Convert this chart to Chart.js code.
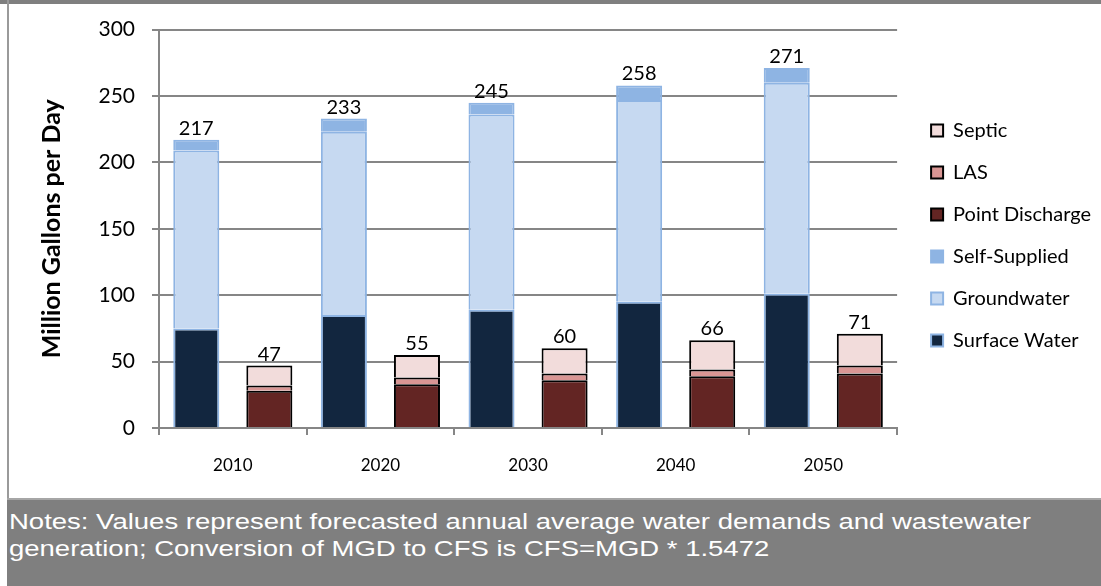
<!DOCTYPE html>
<html>
<head>
<meta charset="utf-8">
<script src="https://cdn.jsdelivr.net/npm/chart.js@4"></script>
<style>
  body { margin: 0; background: #fff; width: 1101px; height: 586px; overflow: hidden; position: relative; }
  #c { position: absolute; left: 0; top: 0; }
  #topbar { position: absolute; left: 0; top: 0; width: 1101px; height: 4px; background: #7f7f7f; }
  #leftline { position: absolute; left: 7px; top: 0; width: 2px; height: 498px; background: #9a9a9a; }
  #notes { position: absolute; left: 7px; top: 498px; width: 1094px; height: 88px; background: #7f7f7f;
           border-top: 2px solid #a6a6a6; box-sizing: border-box; }
  #notesText { position: absolute; left: 2px; top: 8px; color: #fff; font: 22px "Liberation Sans", Arial, sans-serif;
               line-height: 27px; white-space: nowrap; transform-origin: 0 0; }
</style>
</head>
<body>
<canvas id="c" width="1101" height="498"></canvas>
<div id="topbar"></div>
<div id="leftline"></div>
<div id="notes"><div id="notesText"><span id="line1">Notes: Values represent forecasted annual average water demands and wastewater</span><br>generation; Conversion of MGD to CFS is CFS=MGD * 1.5472</div></div>
<script>
// Anos
const years = ["2010", "2020", "2030", "2040", "2050"];

// Abastecimento (MGD)
const surfaceWater = [75, 85, 89, 95, 101];
const groundwater = [134, 138, 147, 152, 159];
const selfSupplied = [8, 10, 9, 11, 11];

// Efluentes (MGD)
const pointDischarge = [28, 33, 36, 39, 41];
const las = [4, 5, 5, 5, 6];
const septic = [15, 17, 19, 22, 24];

const yTicks = [0, 50, 100, 150, 200, 250, 300];

const font = "Lato, 'Open Sans', sans-serif";
const grey = "#868686";

// Totais em cima de cada pilha
const totalLabels = {
  id: "totalLabels",
  afterLayout(chart) {
    // legenda um pouco para cima e para a direita
    chart.legend.top -= 24;
    chart.legend.bottom -= 24;
    chart.legend.left += 12;
    chart.legend.right += 12;
  },
  afterDatasetsDraw(chart) {
    const ctx = chart.ctx;
    const sets = chart.data.datasets;
    ctx.save();
    ctx.font = "20px " + font;
    ctx.fillStyle = "#000";
    ctx.textAlign = "center";
    ctx.textBaseline = "alphabetic";
    ["supply", "waste"].forEach(stack => {
      const idx = sets.map((d, i) => i).filter(i => sets[i].stack === stack);
      const meta = chart.getDatasetMeta(idx[idx.length - 1]);
      meta.data.forEach((bar, j) => {
        const total = idx.reduce((s, i) => s + sets[i].data[j], 0);
        ctx.fillText(total, bar.x, bar.y - 5);
      });
    });
    ctx.restore();
  }
};

new Chart(document.getElementById("c"), {
  type: "bar",
  data: {
    labels: years,
    datasets: [
      { label: "Surface Water", data: surfaceWater, stack: "supply", backgroundColor: "#12263f", borderColor: "#8eb4e3", borderWidth: 2 },
      { label: "Groundwater", data: groundwater, stack: "supply", backgroundColor: "#c6d9f1", borderColor: "#8eb4e3", borderWidth: 2 },
      { label: "Self-Supplied", data: selfSupplied, stack: "supply", backgroundColor: "#8eb4e3", borderColor: "#8eb4e3", borderWidth: 2 },
      { label: "Point Discharge", data: pointDischarge, stack: "waste", backgroundColor: "#632523", borderColor: "#000", borderWidth: 2 },
      { label: "LAS", data: las, stack: "waste", backgroundColor: "#d99694", borderColor: "#000", borderWidth: 2 },
      { label: "Septic", data: septic, stack: "waste", backgroundColor: "#f2dcdb", borderColor: "#000", borderWidth: 2 }
    ]
  },
  options: {
    responsive: false,
    animation: false,
    layout: { padding: { top: 21, right: 12, bottom: 0, left: 0 } },
    datasets: { bar: { categoryPercentage: 0.99, barPercentage: 0.63 } },
    plugins: {
      tooltip: { enabled: false },
      legend: {
        position: "right",
        reverse: true,
        labels: {
          color: "#000",
          font: { family: font, size: 20 },
          boxWidth: 12,
          boxHeight: 12,
          padding: 22
        }
      }
    },
    scales: {
      x: {
        stacked: true,
        grid: { drawOnChartArea: false, color: grey, lineWidth: 2, tickLength: 7 },
        border: { color: grey, width: 2 },
        ticks: { color: "#000", font: { family: font, size: 17 }, padding: 20 },
        afterFit: s => { s.height = 70; }
      },
      y: {
        stacked: true,
        min: 0,
        max: 300,
        afterBuildTicks: s => { s.ticks = yTicks.map(v => ({ value: v })); },
        grid: { color: grey, lineWidth: 2, tickLength: 7 },
        border: { color: grey, width: 2 },
        ticks: { color: "#000", font: { family: font, size: 21 }, padding: 17 },
        title: {
          display: true,
          text: "Million Gallons per Day",
          color: "#000",
          font: { family: font, size: 25, weight: "bold" },
          padding: { top: 37, bottom: 0 }
        },
        afterFit: s => { s.width = 159; }
      }
    }
  },
  plugins: [totalLabels]
});

// ajusta a largura da nota
const notes = document.getElementById("notesText");
const w = document.getElementById("line1").getBoundingClientRect().width;
notes.style.transform = "scaleX(" + (1022 / w) + ")";
</script>
</body>
</html>
